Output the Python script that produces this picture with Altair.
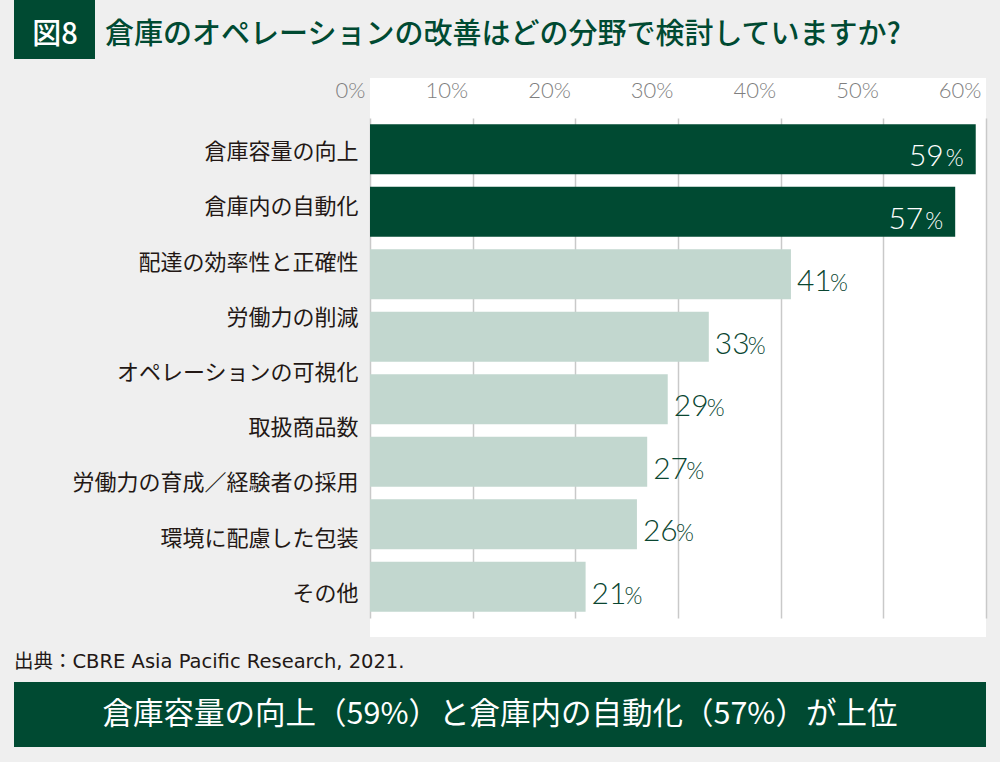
import altair as alt
import pandas as pd

# ---- data ----
categories = [
    "倉庫容量の向上",
    "倉庫内の自動化",
    "配達の効率性と正確性",
    "労働力の削減",
    "オペレーションの可視化",
    "取扱商品数",
    "労働力の育成／経験者の採用",
    "環境に配慮した包装",
    "その他",
]
bar_values = [59, 57, 41, 33, 29, 27, 26, 21]
x_ticks = [0, 10, 20, 30, 40, 50, 60]

fig_label = "図8"
title_text = "倉庫のオペレーションの改善はどの分野で検討していますか?"
source_text = "出典：CBRE Asia Pacific Research, 2021."
banner_text = "倉庫容量の向上（59%）と倉庫内の自動化（57%）が上位"

# ---- styles ----
DARK = "#004a32"
LIGHT = "#c2d7cf"
BG = "#efefef"
JP = "Noto Sans CJK JP"
NUM = "Lato"
MIX = "DejaVu Sans, Noto Sans CJK JP"

bars_df = pd.DataFrame({"rank": list(range(len(bar_values))), "value": bar_values})
bars_df["tier"] = ["top" if i < 2 else "rest" for i in range(len(bar_values))]
bars_df["num"] = bars_df["value"].astype(str)
cat_df = pd.DataFrame({"category": categories})

xscale = alt.Scale(domain=[0, 60], nice=False)
ybar = alt.Y("rank:O", scale=alt.Scale(range=[40, 540], paddingInner=0.2, paddingOuter=0.1), axis=None)

bars = alt.Chart(bars_df).mark_bar().encode(
    x=alt.X(
        "value:Q",
        scale=xscale,
        axis=alt.Axis(
            orient="top",
            values=x_ticks,
            format="d",
            labelExpr="datum.value + '%'",
            grid=True,
            gridColor="#c9c9c9",
            gridWidth=1.5,
            domain=False,
            ticks=False,
            labelAlign="right",
            labelOffset=-5,
            labelBaseline="alphabetic",
            labelPadding=-19,
            labelFont=NUM,
            labelFontSize=22,
            labelFontWeight=300,
            labelColor="#7f7f7f",
            title=None,
        ),
    ),
    y=ybar,
    color=alt.Color("tier:N", scale=alt.Scale(domain=["top", "rest"], range=[DARK, LIGHT]), legend=None),
)

top = alt.Chart(bars_df).transform_filter(alt.datum.tier == "top")
rest = alt.Chart(bars_df).transform_filter(alt.datum.tier == "rest")

top_num = top.mark_text(align="right", baseline="alphabetic", dx=-32, dy=17, font=NUM, fontSize=30,
                        fontWeight=300, color="white").encode(
    x=alt.X("value:Q", scale=xscale), y=ybar, text="num:N")
top_pct = top.mark_text(align="right", baseline="alphabetic", dx=-12, dy=17, font=NUM, fontSize=23,
                        fontWeight=300, color="white").encode(
    x=alt.X("value:Q", scale=xscale), y=ybar, text=alt.value("%"))
rest_num = rest.mark_text(align="left", baseline="alphabetic", dx=6, dy=17, font=NUM, fontSize=30,
                          fontWeight=300, color="#0a4631").encode(
    x=alt.X("value:Q", scale=xscale), y=ybar, text="num:N")
rest_pct = rest.mark_text(align="left", baseline="alphabetic", dx=39, dy=17, font=NUM, fontSize=23,
                          fontWeight=300, color="#0a4631").encode(
    x=alt.X("value:Q", scale=xscale), y=ybar, text=alt.value("%"))

bar_group = alt.layer(bars, top_num, top_pct, rest_num, rest_pct)

labels = alt.Chart(cat_df).mark_point(opacity=0).encode(
    x=alt.value(0),
    y=alt.Y(
        "category:N",
        sort=categories,
        scale=alt.Scale(range=[46, 543], paddingInner=0, paddingOuter=0),
        axis=alt.Axis(
            orient="left",
            domain=False,
            ticks=False,
            labelPadding=12,
            labelFont=JP,
            labelFontSize=22,
            labelColor="#231815",
            labelLimit=0,
            title=None,
        ),
    ),
)

# decorations (outside plot area)
deco = pd.DataFrame({"a": [0]})
fig_box = alt.Chart(deco).mark_rect(color=DARK).encode(
    x=alt.value(-356), x2=alt.value(-275), y=alt.value(-78), y2=alt.value(-19))
fig_txt = alt.Chart(deco).mark_text(text=fig_label, font=JP, fontSize=29, fontWeight=500, color="white",
                                    align="center", baseline="middle").encode(x=alt.value(-315), y=alt.value(-43))
title = alt.Chart(deco).mark_text(text=title_text, font=JP, fontSize=29, fontWeight=500, color=DARK,
                                  align="left", baseline="middle").encode(x=alt.value(-265), y=alt.value(-43))
source = alt.Chart(deco).mark_text(text=source_text, font=MIX, fontSize=19.5, color="#231815",
                                   align="left", baseline="middle").encode(x=alt.value(-356), y=alt.value(584))
banner = alt.Chart(deco).mark_rect(color=DARK).encode(
    x=alt.value(-356), x2=alt.value(616), y=alt.value(604), y2=alt.value(669))
banner_txt = alt.Chart(deco).mark_text(text=banner_text, font=JP, fontSize=30.5, color="white",
                                       align="center", baseline="middle").encode(x=alt.value(130), y=alt.value(637))

chart = alt.layer(bar_group, labels, fig_box, fig_txt, title, source, banner, banner_txt).resolve_scale(
    y="independent"
).properties(
    width=616,
    height=559,
    autosize="none",
    padding={"left": 370, "top": 78, "right": 14, "bottom": 125},
    background=BG,
).configure_view(fill="white", stroke=None)

chart.save("out.html", embed_options={"renderer": "svg", "actions": False})
